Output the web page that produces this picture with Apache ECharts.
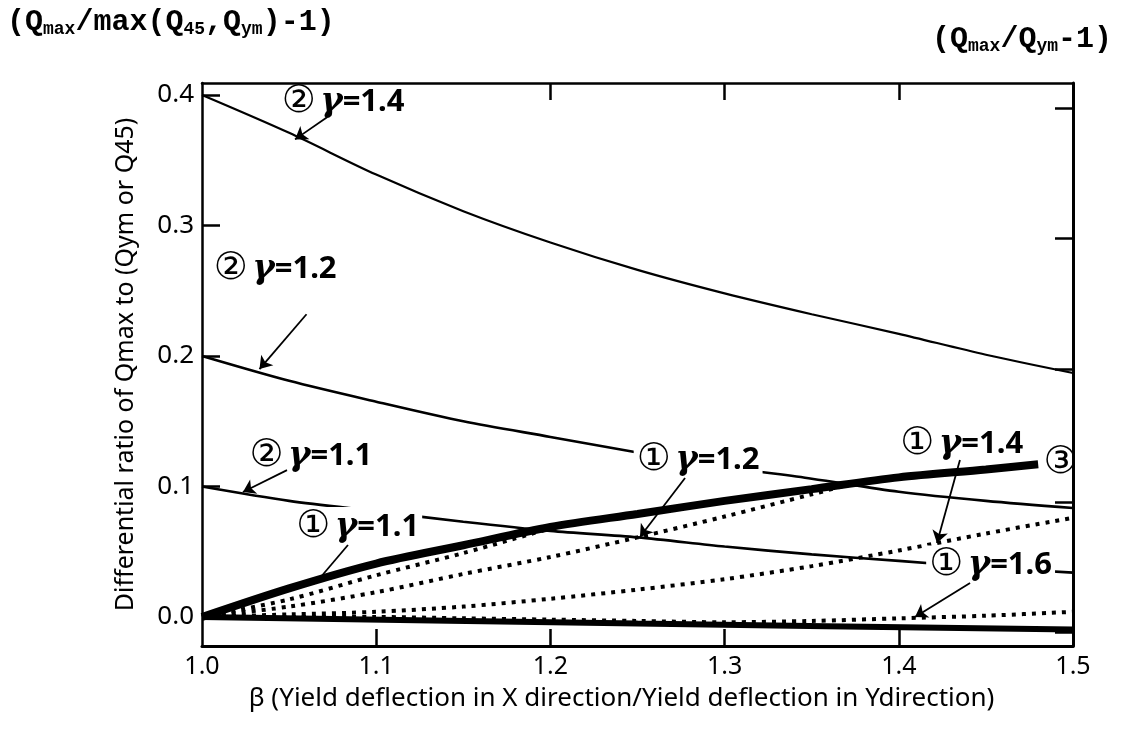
<!DOCTYPE html>
<html>
<head>
<meta charset="utf-8">
<script src="https://cdn.jsdelivr.net/npm/echarts@6/dist/echarts.min.js"></script>
<style>
  html, body { margin: 0; padding: 0; background: #fff; }
  #chart { width: 1121px; height: 736px; }
</style>
</head>
<body>
<div id="chart"></div>
<script>
// beta values (x) and curves
const betaFull = [1.0, 1.05, 1.1, 1.15, 1.2, 1.25, 1.3, 1.35, 1.4, 1.45, 1.5];
const r2g14 = [0.400, 0.371, 0.339, 0.311, 0.287, 0.266, 0.248, 0.232, 0.217, 0.201, 0.187];
const r2g12 = [0.200, 0.181, 0.165, 0.150, 0.138, 0.126, 0.115, 0.106, 0.096, 0.089, 0.0835];
const r2g11 = [0.100, 0.089, 0.081, 0.073, 0.066, 0.061, 0.054, 0.048, 0.043, 0.038, 0.034];
const r1g14 = [0, 0.002, 0.004, 0.008, 0.014, 0.021, 0.029, 0.039, 0.051, 0.064, 0.076];
const r1g16 = [0, 0, 0, -0.001, -0.002, -0.003, -0.004, -0.003, -0.001, 0.001, 0.004];

const betaR3 = [1.0, 1.05, 1.1, 1.15, 1.2, 1.25, 1.3, 1.35, 1.4, 1.45, 1.48];
const r3 = [0, 0.022, 0.041, 0.055, 0.069, 0.079, 0.089, 0.098, 0.107, 0.113, 0.117];

const betaR1g11 = [1.0, 1.05, 1.1, 1.15, 1.2];
const r1g11 = [0, 0.0135, 0.032, 0.049, 0.068];

const betaR1g12 = [1.0, 1.05, 1.1, 1.15, 1.2, 1.25, 1.3, 1.35, 1.37];
const r1g12 = [0, 0.008, 0.019, 0.033, 0.046, 0.061, 0.077, 0.094, 0.101];

const betaBase = [1.0, 1.25, 1.5];
const baseLine = [0, -0.005, -0.0095];

// tick values
const xTicks = [1.0, 1.1, 1.2, 1.3, 1.4, 1.5];
const xInnerTicks = [1.1, 1.2, 1.3, 1.4];
const xTopTicks = [1.2, 1.3, 1.4];
const yTicks = [0, 0.1, 0.2, 0.3, 0.4];
const yRightTicks = [0.39, 0.29, 0.19, 0.088, -0.0115];

// curve annotations: marker, gamma text, label centre, arrow tail, arrow head (data coords)
const annoMark = ['②', '②', '②', '①', '①', '①', '①', '③'];
const annoGamma = ['1.4', '1.2', '1.1', '1.1', '1.2', '1.4', '1.6', ''];
const annoAt = [[1.081, 0.396], [1.042, 0.268], [1.0625, 0.125], [1.0894, 0.0705],
                [1.2848, 0.1215], [1.4361, 0.1341], [1.4527, 0.041], [1.4928, 0.1195]];
// labels that hide the line running behind them
const annoMask = [false, false, false, true, true, false, true, false];
const arrowFrom = [[1.0718, 0.383], [1.06, 0.232], [1.0488, 0.1126], [1.0838, 0.0552],
                   [1.2773, 0.1065], [1.4351, 0.1203], [1.4409, 0.026]];
const arrowTo = [[1.0534, 0.366], [1.033, 0.190], [1.0235, 0.0958], [1.0677, 0.0299],
                 [1.2514, 0.0613], [1.4219, 0.0567], [1.4093, 0.0]];
const arrowHead = [true, true, true, false, true, true, true];

const pairs = (xs, ys) => xs.map((x, i) => [x, ys[i]]);

const solid = (name, xs, ys, w) => ({
  name: name, type: 'line', data: pairs(xs, ys), showSymbol: false, smooth: 0.3, z: 2,
  lineStyle: { color: '#000', width: w }
});
const dotted = (name, xs, ys) => ({
  name: name, type: 'line', data: pairs(xs, ys), showSymbol: false, smooth: 0.3, z: 2,
  lineStyle: { color: '#000', width: 4, type: [4, 6] }
});

const chart = echarts.init(document.getElementById('chart'));

const yMin = -0.0222, yMax = 0.4092;

const mono = {
  p: { fontFamily: 'Liberation Mono', fontWeight: 'bold', fontSize: 30, color: '#000', lineHeight: 32 },
  s: { fontFamily: 'Liberation Mono', fontWeight: 'bold', fontSize: 18, color: '#000', verticalAlign: 'bottom', lineHeight: 32 }
};

const noBorder = { textBorderWidth: 0, textBorderColor: 'transparent', color: '#000' };

const option = {
  animation: false,
  backgroundColor: '#fff',
  title: [
    {
      text: '{p|(Q}{s|max}{p|/max(Q}{s|45}{p|,Q}{s|ym}{p|)-1)}',
      left: 2, top: 1,
      textStyle: { rich: mono }
    },
    {
      text: '{p|(Q}{s|max}{p|/Q}{s|ym}{p|-1)}',
      right: 4, top: 18,
      textStyle: { rich: mono }
    }
  ],
  grid: { left: 202, right: 48, top: 83, bottom: 90 },
  xAxis: [
    {
      type: 'value', min: 1, max: 1.5, position: 'bottom',
      axisLine: { show: true, onZero: false, lineStyle: { color: '#000', width: 3 } },
      axisTick: { show: true, inside: true, length: 17, customValues: xInnerTicks, lineStyle: { color: '#000', width: 2.5 } },
      axisLabel: {
        customValues: xTicks, formatter: v => v.toFixed(1),
        fontFamily: 'Noto Sans', fontSize: 25, color: '#000', margin: 8
      },
      splitLine: { show: false },
      name: 'β (Yield deflection in X direction/Yield deflection in Ydirection)',
      nameLocation: 'middle', nameGap: 40,
      nameTextStyle: { fontFamily: 'Noto Sans', fontSize: 26, color: '#000', padding: [0, 32, 0, 0] }
    },
    {
      type: 'value', min: 1, max: 1.5, position: 'top',
      axisLine: { show: true, onZero: false, lineStyle: { color: '#000', width: 2.5 } },
      axisTick: { show: true, inside: true, length: 17, customValues: xTopTicks, lineStyle: { color: '#000', width: 2.5 } },
      axisLabel: { show: false },
      splitLine: { show: false }
    }
  ],
  yAxis: [
    {
      type: 'value', min: yMin, max: yMax, position: 'left',
      axisLine: { show: true, onZero: false, lineStyle: { color: '#000', width: 2.5 } },
      axisTick: { show: true, inside: true, length: 18, customValues: yTicks, lineStyle: { color: '#000', width: 2.5 } },
      axisLabel: {
        customValues: yTicks, formatter: v => v.toFixed(1),
        fontFamily: 'Noto Sans', fontSize: 26, color: '#000', margin: 8
      },
      splitLine: { show: false },
      name: 'Differential ratio of Qmax to (Qym or Q45)',
      nameLocation: 'middle', nameGap: 64,
      nameTextStyle: { fontFamily: 'Noto Sans', fontSize: 25, color: '#000' }
    },
    {
      type: 'value', min: yMin, max: yMax, position: 'right',
      axisLine: { show: true, onZero: false, lineStyle: { color: '#000', width: 3 } },
      axisTick: { show: true, inside: true, length: 18, customValues: yRightTicks, lineStyle: { color: '#000', width: 2.5 } },
      axisLabel: { show: false },
      splitLine: { show: false }
    }
  ],
  series: [
    solid('② γ=1.4', betaFull, r2g14, 2.2),
    solid('② γ=1.2', betaFull, r2g12, 2.6),
    solid('② γ=1.1', betaFull, r2g11, 2.6),
    dotted('① γ=1.1', betaR1g11, r1g11),
    dotted('① γ=1.2', betaR1g12, r1g12),
    dotted('① γ=1.4', betaFull, r1g14),
    dotted('① γ=1.6', betaFull, r1g16),
    solid('③', betaR3, r3, 8),
    solid('base', betaBase, baseLine, 6),
    {
      name: 'labels', type: 'scatter', z: 6, symbolSize: 0,
      itemStyle: { color: '#000', opacity: 1 },
      data: annoAt.map((p, i) => ({
        value: [p[0], p[1]],
        label: { backgroundColor: annoMask[i] ? '#fff' : 'transparent' }
      })),
      label: Object.assign({
        show: true, position: 'inside',
        padding: [4, 3, 0, 3],
        formatter: p => {
          const g = annoGamma[p.dataIndex];
          return '{c|' + annoMark[p.dataIndex] + '}' + (g ? '{sp| }{g|γ}{t|=' + g + '}' : '');
        },
        rich: {
          c: Object.assign({ fontFamily: 'DejaVu Sans', fontSize: 38, lineHeight: 32 }, noBorder),
          sp: { fontSize: 16, lineHeight: 32 },
          g: Object.assign({ fontFamily: 'DejaVu Serif', fontStyle: 'italic', fontWeight: 'bold', fontSize: 34, lineHeight: 32 }, noBorder),
          t: Object.assign({ fontFamily: 'Noto Sans', fontWeight: 'bold', fontSize: 31, lineHeight: 32 }, noBorder)
        }
      }, noBorder),
      markLine: {
        silent: true, symbolSize: 12, animation: false,
        label: { show: false },
        lineStyle: { color: '#000', width: 1.8, type: 'solid' },
        data: arrowFrom.map((f, i) => [
          { coord: f, symbol: 'none' },
          { coord: arrowTo[i], symbol: arrowHead[i] ? 'arrow' : 'none' }
        ])
      }
    }
  ]
};

chart.setOption(option);
</script>
</body>
</html>
